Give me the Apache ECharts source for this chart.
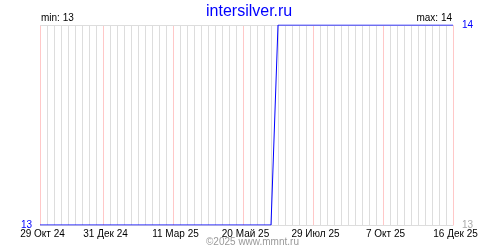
<!DOCTYPE html>
<html>
<head>
<meta charset="utf-8">
<script src="https://cdn.jsdelivr.net/npm/echarts@6/dist/echarts.min.js"></script>
<style>
html,body{margin:0;padding:0;background:#fff;}
#chart{width:500px;height:250px;}
</style>
</head>
<body>
<div id="chart"></div>
<script>
// Weekly dates (categories)
const categories = [
  '29 Окт 24','5 Ноя 24','12 Ноя 24','19 Ноя 24','26 Ноя 24','3 Дек 24','10 Дек 24','17 Дек 24','24 Дек 24','31 Дек 24',
  '7 Янв 25','14 Янв 25','21 Янв 25','28 Янв 25','4 Фев 25','11 Фев 25','18 Фев 25','25 Фев 25','4 Мар 25','11 Мар 25',
  '18 Мар 25','25 Мар 25','1 Апр 25','8 Апр 25','15 Апр 25','22 Апр 25','29 Апр 25','6 Май 25','13 Май 25','20 Май 25',
  '27 Май 25','3 Июн 25','10 Июн 25','17 Июн 25','24 Июн 25','1 Июл 25','8 Июл 25','15 Июл 25','22 Июл 25','29 Июл 25',
  '5 Авг 25','12 Авг 25','19 Авг 25','26 Авг 25','2 Сен 25','9 Сен 25','16 Сен 25','23 Сен 25','30 Сен 25','7 Окт 25',
  '14 Окт 25','21 Окт 25','28 Окт 25','4 Ноя 25','11 Ноя 25','18 Ноя 25','25 Ноя 25','2 Дек 25','9 Дек 25','16 Дек 25'
];
// Series values (one per week)
const values = [
  13,13,13,13,13,13,13,13,13,13,
  13,13,13,13,13,13,13,13,13,13,
  13,13,13,13,13,13,13,13,13,13,
  13,13,13,13,14,14,14,14,14,14,
  14,14,14,14,14,14,14,14,14,14,
  14,14,14,14,14,14,14,14,14,14
];
// X tick labels (shown, with pink guide lines)
const tickLabels = ['29 Окт 24','31 Дек 24','11 Мар 25','20 Май 25','29 Июл 25','7 Окт 25','16 Дек 25'];
// Y tick values
const yMin = 13;
const yMax = 14;
const titleText = 'intersilver.ru';
const footerText = '©2025 www.mmnt.ru';

const FONT = 'Liberation Sans';
const GRAY = '#dddddd', PINK = '#ffc8c8';
const chart = echarts.init(document.getElementById('chart'), null, {renderer: 'canvas'});
const vMin = Math.min(...values), vMax = Math.max(...values);
const majorIdx = tickLabels.map(t => categories.indexOf(t));

chart.setOption({
  animation: false,
  backgroundColor: '#ffffff',
  title: {
    text: titleText,
    left: 201,
    top: -1,
    textStyle: {color: '#0000ff', fontSize: 16, fontWeight: 'normal', fontFamily: FONT}
  },
  grid: {left: 40, right: 47, top: 25, bottom: 25, containLabel: false},
  xAxis: {
    type: 'category',
    data: categories,
    boundaryGap: false,
    axisLine: {show: false},
    axisTick: {show: false},
    splitLine: {show: true, interval: 0, lineStyle: {color: GRAY, width: 1}},
    axisLabel: {
      interval: (i, v) => tickLabels.includes(v),
      color: '#000000', fontSize: 10, fontFamily: FONT, margin: 4,
      padding: [0, 0, 0, 5]
    }
  },
  yAxis: [
    {
      type: 'value', min: yMin, max: yMax, interval: 1, position: 'left', z: 4,
      axisLine: {show: false}, axisTick: {show: false},
      splitLine: {show: true, lineStyle: {color: GRAY, width: 1}},
      axisLabel: {formatter: v => v === yMin ? String(v) : '', color: '#0000ff', fontSize: 10, fontFamily: FONT, margin: 8}
    },
    {
      type: 'value', min: yMin, max: yMax, interval: 1, position: 'right',
      axisLine: {show: false}, axisTick: {show: false}, splitLine: {show: false},
      axisLabel: {
        formatter: v => v === yMax ? '{b|' + v + '}' : '{g|' + v + '}',
        margin: 9,
        rich: {
          b: {color: '#0000ff', fontSize: 10, fontFamily: FONT},
          g: {color: '#aaaaaa', fontSize: 10, fontFamily: FONT}
        }
      }
    }
  ],
  series: [
    {
      type: 'line',
      data: values,
      showSymbol: false,
      z: 6,
      lineStyle: {color: '#0000ff', width: 1},
      itemStyle: {color: '#0000ff'},
      silent: true
    },
    {
      // pink guide lines at labelled dates: one polyline, positions from the axis scale
      type: 'custom',
      silent: true,
      clip: false,
      z: 2,
      data: [[0]],
      renderItem: function (params, api) {
        const pts = [];
        majorIdx.forEach((idx, k) => {
          const x = Math.round(api.coord([idx, yMin])[0]) + 0.5;
          const yb = Math.round(api.coord([idx, yMin])[1]) + 0.5;
          const yt = Math.round(api.coord([idx, yMax])[1]) + 0.5;
          if (k % 2 === 0) { pts.push([x, yt], [x, yb]); }
          else { pts.push([x, yb], [x, yt]); }
        });
        return {
          type: 'polyline',
          shape: {points: pts},
          style: {stroke: PINK, lineWidth: 1, fill: null}
        };
      }
    }
  ],
  graphic: [
    {type: 'text', left: 41, top: 13, style: {text: 'min: ' + vMin, fill: '#000', font: '10px "' + FONT + '"'}},
    {type: 'text', right: 48, top: 13, style: {text: 'max: ' + vMax, fill: '#000', font: '10px "' + FONT + '"'}},
    {type: 'text', left: 206, top: 237, style: {text: footerText, fill: '#999999', font: '10px "' + FONT + '"'}}
  ]
});
</script>
</body>
</html>
